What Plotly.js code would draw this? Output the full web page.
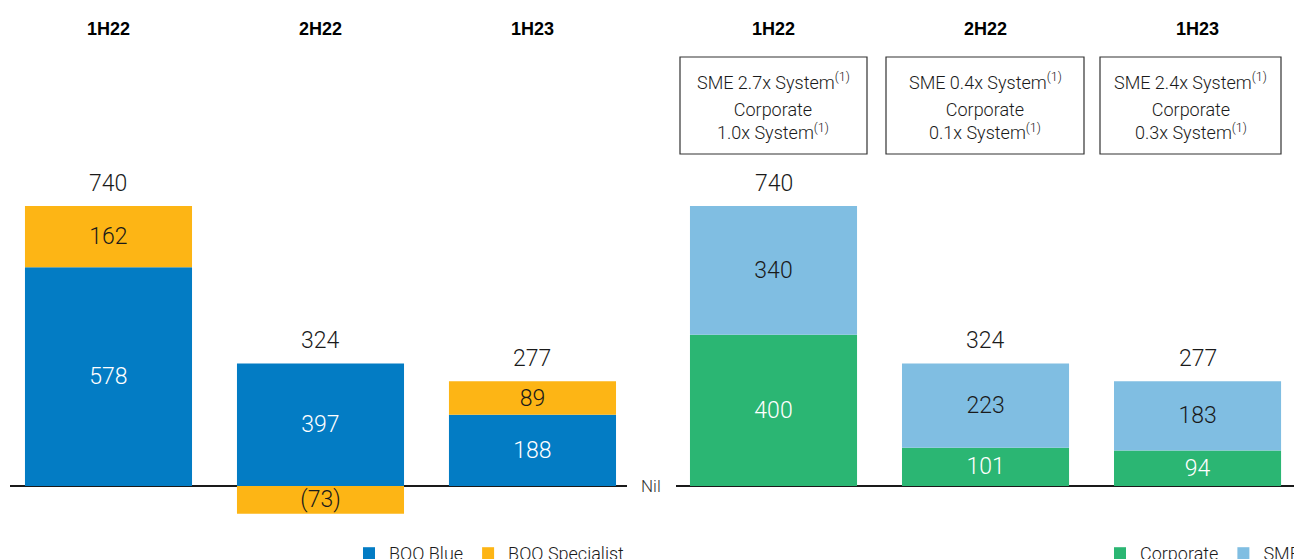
<!DOCTYPE html>
<html>
<head>
<meta charset="utf-8">
<script src="https://cdn.plot.ly/plotly-3.0.1.min.js"></script>
<style>
html,body{margin:0;padding:0;background:#fff;}
#chart{width:1294px;height:559px;}
</style>
</head>
<body>
<div id="chart"></div>
<script>
// ---- data ----
var periods = ['1H22', '2H22', '1H23'];
var booBlue = [578, 397, 188];
var booSpecialist = [162, -73, 89];
var corporate = [400, 101, 94];
var sme = [340, 223, 183];
var smeMultiple = ['2.7x', '0.4x', '2.4x'];
var corpMultiple = ['1.0x', '0.1x', '0.3x'];
var nilLabel = 'Nil';

// ---- styles ----
var C_BLUE = '#037CC4', C_ORANGE = '#FDB515', C_GREEN = '#2BB673', C_LIGHT = '#80BEE2';
var NUM_FONT = 'Roboto, "Noto Sans", sans-serif';
var DARK = '#1a1a1a';
var NUM_W = 300;

function fmt(v) { return v < 0 ? '(' + (-v) + ')' : String(v); }

// left panel: blue bar shows net height when specialist is negative (as in source)
var blueDrawn = booBlue.map(function (v, i) { return v + Math.min(0, booSpecialist[i]); });
var leftTotals = booBlue.map(function (v, i) { return v + booSpecialist[i]; });
var rightTotals = corporate.map(function (v, i) { return v + sme[i]; });

var BW = 0.788;
var commonText = {
  textposition: 'inside', insidetextanchor: 'middle', constraintext: 'none',
  textangle: 0, hoverinfo: 'skip', width: BW
};

var traces = [
  Object.assign({
    type: 'bar', name: 'BOO Blue', x: periods, y: blueDrawn, xaxis: 'x', yaxis: 'y',
    marker: {color: C_BLUE}, text: booBlue.map(fmt),
    insidetextfont: {family: NUM_FONT, size: 23, weight: NUM_W, color: '#ffffff'}, legend: 'legend'
  }, commonText),
  Object.assign({
    type: 'bar', name: 'BOO Specialist', x: periods, y: booSpecialist, xaxis: 'x', yaxis: 'y',
    marker: {color: C_ORANGE}, text: booSpecialist.map(fmt),
    insidetextfont: {family: NUM_FONT, size: 23, weight: NUM_W, color: DARK}, legend: 'legend'
  }, commonText),
  Object.assign({
    type: 'bar', name: 'Corporate', x: periods, y: corporate, xaxis: 'x2', yaxis: 'y2',
    marker: {color: C_GREEN}, text: corporate.map(fmt),
    insidetextfont: {family: NUM_FONT, size: 23, weight: NUM_W, color: '#ffffff'}, legend: 'legend2'
  }, commonText),
  Object.assign({
    type: 'bar', name: 'SME', x: periods, y: sme, xaxis: 'x2', yaxis: 'y2',
    marker: {color: C_LIGHT}, text: sme.map(fmt),
    insidetextfont: {family: NUM_FONT, size: 23, weight: NUM_W, color: DARK}, legend: 'legend2'
  }, commonText)
];

var W = 1294, H = 559;
var YR = [-192.9, 1284.4];

var annotations = [];
periods.forEach(function (p, i) {
  ['x', 'x2'].forEach(function (xr) {
    annotations.push({
      xref: xr, yref: 'paper', x: p, y: 1 - 29 / H, xanchor: 'center', yanchor: 'middle',
      text: '<b>' + p + '</b>', showarrow: false,
      font: {family: '"Liberation Sans", Arial, sans-serif', size: 18, color: '#000'}
    });
  });
  annotations.push({
    xref: 'x', yref: 'y', x: p, y: leftTotals[i], xanchor: 'center', yanchor: 'bottom', yshift: 7,
    text: String(leftTotals[i]), showarrow: false,
    font: {family: NUM_FONT, size: 23, weight: NUM_W, color: DARK}
  });
  annotations.push({
    xref: 'x2', yref: 'y2', x: p, y: rightTotals[i], xanchor: 'center', yanchor: 'bottom', yshift: 7,
    text: String(rightTotals[i]), showarrow: false,
    font: {family: NUM_FONT, size: 23, weight: NUM_W, color: DARK}
  });
});

// boxes above right panel
var boxes = [[680, 867], [886, 1084], [1100, 1281]];
var shapes = [];
boxes.forEach(function (b, i) {
  shapes.push({
    type: 'rect', xref: 'paper', yref: 'paper',
    x0: b[0] / W, x1: b[1] / W, y0: 1 - 154 / H, y1: 1 - 57 / H,
    line: {color: '#333', width: 1.2}, fillcolor: 'rgba(0,0,0,0)'
  });
  var cx = (b[0] + b[1]) / 2 / W;
  annotations.push({
    xref: 'paper', yref: 'paper', x: cx, y: 1 - 81 / H, xanchor: 'center', yanchor: 'middle',
    text: 'SME ' + smeMultiple[i] + ' System<sup>(1)</sup>', showarrow: false,
    font: {family: NUM_FONT, size: 18, weight: NUM_W, color: DARK}
  });
  annotations.push({
    xref: 'paper', yref: 'paper', x: cx, y: 1 - 120.5 / H, xanchor: 'center', yanchor: 'middle',
    text: 'Corporate<br>' + corpMultiple[i] + ' System<sup>(1)</sup>', showarrow: false,
    font: {family: NUM_FONT, size: 18, weight: NUM_W, color: DARK}
  });
});

annotations.push({
  xref: 'paper', yref: 'y', x: 651 / W, y: 0, xanchor: 'center', yanchor: 'middle',
  text: nilLabel, showarrow: false, font: {family: NUM_FONT, size: 17, weight: NUM_W, color: '#333'}
});

var yax = {
  range: YR, showgrid: false, showticklabels: false, ticks: '', showline: false,
  zeroline: true, zerolinecolor: '#1a1a1a', zerolinewidth: 2, fixedrange: true
};

var layout = {
  width: W, height: H,
  margin: {l: 0, r: 0, t: 0, b: 0, autoexpand: false},
  paper_bgcolor: '#fff', plot_bgcolor: 'rgba(0,0,0,0)',
  barmode: 'relative',
  showlegend: true,
  xaxis: {domain: [10 / W, 627 / W], range: [-0.4646, 2.4458], type: 'category',
          showticklabels: false, showgrid: false, zeroline: false, showline: false, ticks: ''},
  xaxis2: {domain: [676 / W, 1], range: [-0.4599, 2.455], type: 'category', anchor: 'y2',
           showticklabels: false, showgrid: false, zeroline: false, showline: false, ticks: ''},
  yaxis: Object.assign({domain: [0, 1], anchor: 'x'}, yax),
  yaxis2: Object.assign({domain: [0, 1], anchor: 'x2'}, yax),
  legend: {orientation: 'h', x: 349 / W, xanchor: 'left', y: 1 - 535 / H, yanchor: 'top',
           font: {family: NUM_FONT, size: 18, weight: NUM_W, color: DARK}, bgcolor: 'rgba(0,0,0,0)',
           traceorder: 'normal', itemclick: false},
  legend2: {orientation: 'h', x: 1100 / W, xanchor: 'left', y: 1 - 535 / H, yanchor: 'top',
            font: {family: NUM_FONT, size: 18, weight: NUM_W, color: DARK}, bgcolor: 'rgba(0,0,0,0)',
            traceorder: 'normal', itemclick: false},
  annotations: annotations,
  shapes: shapes
};

Plotly.newPlot('chart', traces, layout, {displayModeBar: false, staticPlot: true});
</script>
</body>
</html>
